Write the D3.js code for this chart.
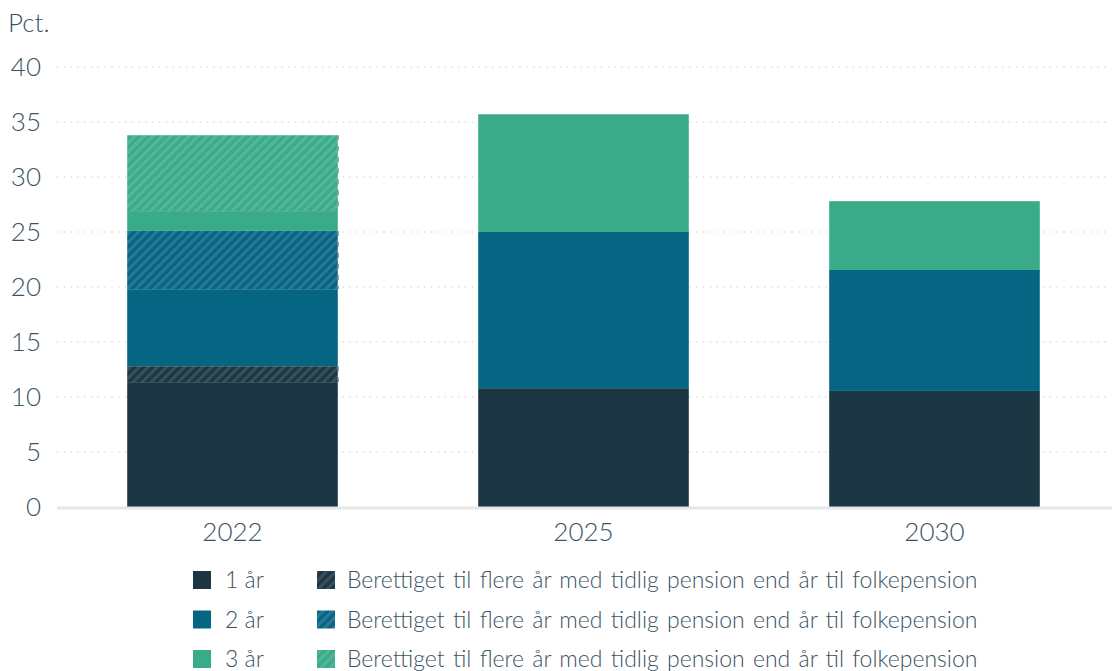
<!DOCTYPE html>
<html>
<head>
<meta charset="utf-8">
<script src="https://cdn.jsdelivr.net/npm/d3@7"></script>
<style>
  body { margin: 0; background: #fff; }
  svg text { font-family: Lato, sans-serif; font-weight: 300; fill: #3b5363; }
</style>
</head>
<body>
<div id="chart"></div>
<script>
// Data
const years = ["2022", "2025", "2030"];
const etAar = [11.35, 10.8, 10.55];
const etAarEkstra = [1.45, 0, 0];
const toAar = [7.0, 14.2, 11.0];
const toAarEkstra = [5.3, 0, 0];
const treAar = [1.8, 10.7, 6.25];
const treAarEkstra = [6.9, 0, 0];
const yTicks = [0, 5, 10, 15, 20, 25, 30, 35, 40];
const legendLabels = ["1 år", "2 år", "3 år"];
const extraLabel = "Berettiget til flere år med tidlig pension end år til folkepension";

const colors = ["#1c3644", "#076584", "#3aab89"];

// series in stacking order
const series = [
  { values: etAar, color: 0, hatch: false },
  { values: etAarEkstra, color: 0, hatch: true },
  { values: toAar, color: 1, hatch: false },
  { values: toAarEkstra, color: 1, hatch: true },
  { values: treAar, color: 2, hatch: false },
  { values: treAarEkstra, color: 2, hatch: true }
];

const W = 1112, H = 671;
const margin = { top: 67, right: 2, bottom: 164, left: 57 };
const width = W - margin.left - margin.right;
const height = H - margin.top - margin.bottom;

const svg = d3.select("#chart").append("svg")
  .attr("width", W)
  .attr("height", H);

// hatch patterns
const defs = svg.append("defs");
colors.forEach((c, i) => {
  const p = defs.append("pattern")
    .attr("id", "hatch" + i)
    .attr("patternUnits", "userSpaceOnUse")
    .attr("width", 6.4)
    .attr("height", 6.4)
    .attr("patternTransform", "rotate(45)");
  p.append("rect").attr("width", 6.4).attr("height", 6.4).attr("fill", c);
  p.append("rect").attr("width", 3).attr("height", 6.4).attr("fill", "#fff").attr("opacity", 0.13);
});

const g = svg.append("g")
  .attr("transform", `translate(${margin.left},${margin.top})`);

const x = d3.scaleBand()
  .domain(years)
  .range([0, width])
  .paddingInner(0.4)
  .paddingOuter(0.2);

const y = d3.scaleLinear()
  .domain([0, 40])
  .range([height, 0]);

// grid lines
g.append("g")
  .selectAll("line")
  .data(yTicks.filter(d => d > 0))
  .enter().append("line")
  .attr("x1", 0)
  .attr("x2", width)
  .attr("y1", d => y(d))
  .attr("y2", d => y(d))
  .attr("stroke", "#c4c4c4")
  .attr("stroke-width", 1.2)
  .attr("stroke-dasharray", "1.2,5.6");

// y tick labels
g.append("g")
  .selectAll("text")
  .data(yTicks)
  .enter().append("text")
  .attr("x", -16)
  .attr("y", d => y(d))
  .attr("dy", "0.35em")
  .attr("text-anchor", "end")
  .style("font-size", "26px")
  .text(d => d);

svg.append("text")
  .attr("x", 8)
  .attr("y", 32)
  .style("font-size", "26px")
  .text("Pct.");

// stacked bars
const stackData = [];
years.forEach((yr, i) => {
  let base = 0;
  series.forEach(s => {
    const v = s.values[i];
    if (v > 0) stackData.push({ year: yr, y0: base, y1: base + v, color: s.color, hatch: s.hatch });
    base += v;
  });
});

g.selectAll(".bar")
  .data(stackData)
  .enter().append("rect")
  .attr("class", "bar")
  .attr("x", d => x(d.year))
  .attr("width", x.bandwidth())
  .attr("y", d => y(d.y1))
  .attr("height", d => y(d.y0) - y(d.y1))
  .attr("fill", d => d.hatch ? `url(#hatch${d.color})` : colors[d.color]);

// dashed right edge of hatched segments
g.selectAll(".edge")
  .data(stackData.filter(d => d.hatch))
  .enter().append("line")
  .attr("x1", d => x(d.year) + x.bandwidth() + 0.5)
  .attr("x2", d => x(d.year) + x.bandwidth() + 0.5)
  .attr("y1", d => y(d.y1))
  .attr("y2", d => y(d.y0))
  .attr("stroke", "#8a8a8a")
  .attr("stroke-width", 1)
  .attr("stroke-dasharray", "5,6");

// baseline
g.append("line")
  .attr("x1", 0)
  .attr("x2", width + margin.right)
  .attr("y1", height + 1)
  .attr("y2", height + 1)
  .attr("stroke", "#e6e6e6")
  .attr("stroke-width", 3);

// x labels
g.append("g")
  .selectAll("text")
  .data(years)
  .enter().append("text")
  .attr("x", d => x(d) + x.bandwidth() / 2)
  .attr("y", height + 34)
  .attr("text-anchor", "middle")
  .style("font-size", "26px")
  .text(d => d);

// legend
const legend = svg.append("g");
legendLabels.forEach((lab, i) => {
  const ly = 580 + i * 39.5;
  legend.append("rect")
    .attr("x", 193).attr("y", ly - 9)
    .attr("width", 18).attr("height", 18)
    .attr("fill", colors[i]);
  legend.append("text")
    .attr("x", 225).attr("y", ly)
    .attr("dy", "0.35em")
    .style("font-size", "23px")
    .text(lab);
  legend.append("rect")
    .attr("x", 317).attr("y", ly - 9)
    .attr("width", 18).attr("height", 18)
    .attr("fill", `url(#hatch${i})`);
  legend.append("text")
    .attr("x", 347).attr("y", ly)
    .attr("dy", "0.35em")
    .style("font-size", "23px")
    .style("word-spacing", "2px")
    .text(extraLabel);
});
</script>
</body>
</html>
